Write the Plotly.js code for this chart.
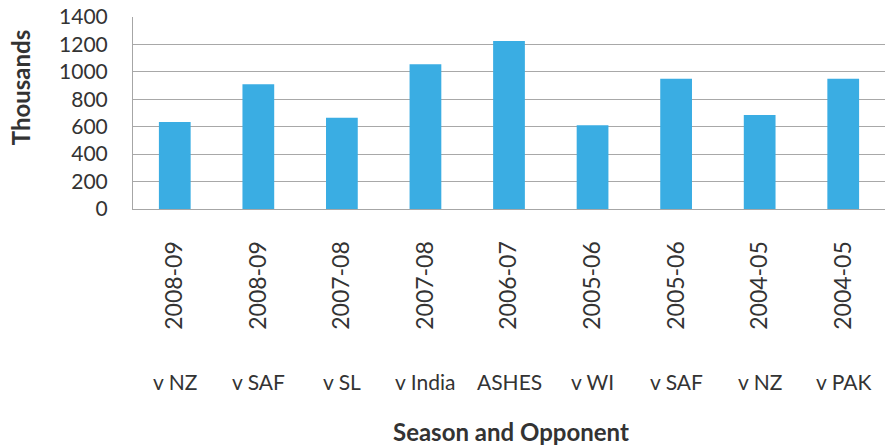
<!DOCTYPE html>
<html>
<head>
<meta charset="utf-8">
<script src="https://cdn.plot.ly/plotly-3.0.1.min.js"></script>
<style>html,body{margin:0;padding:0;background:#fff;}</style>
</head>
<body>
<div id="chart" style="width:885px;height:447px;"></div>
<script>
const seasons = ["2008-09","2008-09","2007-08","2007-08","2006-07","2005-06","2005-06","2004-05","2004-05"];
const opponents = ["v NZ","v SAF","v SL","v India","ASHES","v WI","v SAF","v NZ","v PAK"];
const attendance = [635, 910, 665, 1055, 1225, 610, 950, 685, 950];
const yTicks = [0,200,400,600,800,1000,1200,1400];

const cats = seasons.map((s,i) => i);

const font = "Lato, 'Open Sans', sans-serif";
const textColor = "#333333";

const annotations = opponents.map((o,i) => ({
  x: i, xref: "x", y: -0.901, yref: "paper",
  text: o, showarrow: false, xanchor: "center", yanchor: "middle",
  font: {family: font, size: 21, color: textColor}
}));
annotations.push({
  x: 0.503, xref: "paper", y: -1.161, yref: "paper",
  text: "<b>Season and Opponent</b>", showarrow: false,
  xanchor: "center", yanchor: "middle",
  font: {family: font, size: 24, color: textColor}
});
annotations.push({
  x: -0.150, xref: "paper", y: 0.63, yref: "paper",
  text: "<b>Thousands</b>", showarrow: false, textangle: -90,
  xanchor: "center", yanchor: "middle",
  font: {family: font, size: 24, color: textColor}
});

const data = [{
  type: "bar",
  x: cats,
  y: attendance,
  marker: {color: "#3aade3", line: {width: 0}},
  hoverinfo: "none"
}];

const layout = {
  width: 885, height: 447,
  margin: {l: 133, r: 0, t: 17, b: 238},
  paper_bgcolor: "#ffffff",
  plot_bgcolor: "#ffffff",
  bargap: 0.62,
  showlegend: false,
  xaxis: {
    type: "linear",
    range: [-0.5, 8.5],
    tickmode: "array",
    tickvals: cats,
    ticktext: seasons,
    tickangle: -90,
    ticklabelstandoff: 22,
    tickfont: {family: font, size: 23, color: textColor},
    showgrid: false,
    zeroline: false,
    showline: true,
    linecolor: "#a6a6a6",
    linewidth: 1,
    ticks: ""
  },
  yaxis: {
    range: [0, 1400],
    tickmode: "array",
    tickvals: yTicks,
    ticktext: yTicks.map(String),
    tickfont: {family: font, size: 21, color: textColor},
    ticklabelstandoff: 20,
    showgrid: true,
    gridcolor: "#a8a8a8",
    gridwidth: 1,
    zeroline: false,
    showline: true,
    linecolor: "#a6a6a6",
    linewidth: 1,
    ticks: ""
  },
  annotations: annotations
};

Plotly.newPlot("chart", data, layout, {displayModeBar: false, staticPlot: true});
</script>
</body>
</html>
